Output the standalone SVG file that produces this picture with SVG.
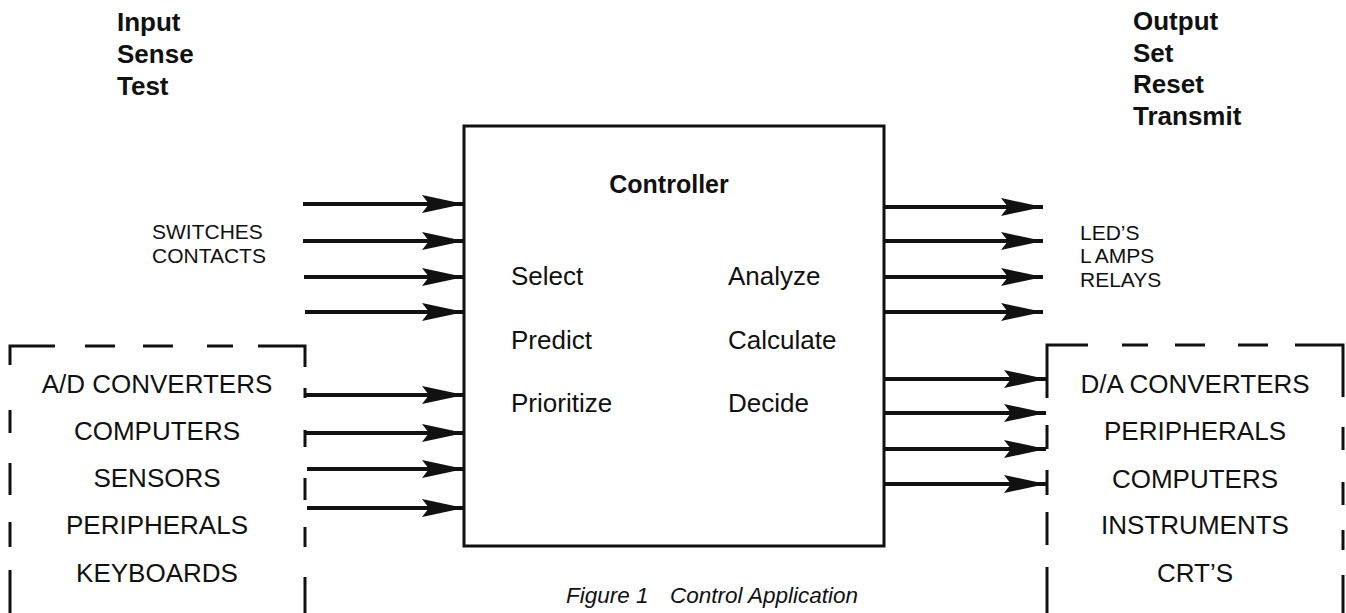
<svg xmlns="http://www.w3.org/2000/svg" width="1346" height="613" viewBox="0 0 1346 613">
  <style>
    text { font-family: "Liberation Sans", Arial, Helvetica, sans-serif; fill: #111; }
    .head { font-size: 26px; font-weight: bold; }
    .title { font-size: 25px; font-weight: bold; }
    .task { font-size: 26px; }
    .dev { font-size: 26px; text-anchor: middle; }
    .small { font-size: 21px; }
    .cap { font-size: 22.5px; font-style: italic; }
    .box { fill: none; stroke: #111; stroke-width: 3; }
    .dash { fill: none; stroke: #111; stroke-width: 3; stroke-linecap: butt; }
    .wire { stroke: #111; stroke-width: 4; fill: none; marker-end: url(#head); }
  </style>
  <defs>
    <!-- long narrow barbed arrowhead, tip at the line end -->
    <marker id="head" markerUnits="userSpaceOnUse" viewBox="-44 -11 46 22" refX="0" refY="0" markerWidth="46" markerHeight="22" orient="auto">
      <path d="M0,0 L-42,-9 L-35,0 L-42,9 Z" fill="#111"/>
    </marker>
  </defs>

  <g id="input-modes">
    <text class="head" x="117" y="31">Input</text>
    <text class="head" x="117" y="63">Sense</text>
    <text class="head" x="117" y="95">Test</text>
  </g>

  <g id="output-modes">
    <text class="head" x="1133" y="30">Output</text>
    <text class="head" x="1133" y="62">Set</text>
    <text class="head" x="1133" y="93">Reset</text>
    <text class="head" x="1133" y="125">Transmit</text>
  </g>

  <g id="controller">
    <rect class="box" x="464" y="126" width="420" height="420"/>
    <text class="title" x="669" y="193" text-anchor="middle">Controller</text>
    <text class="task" x="511" y="285">Select</text>
    <text class="task" x="511" y="349">Predict</text>
    <text class="task" x="511" y="412">Prioritize</text>
    <text class="task" x="728" y="285">Analyze</text>
    <text class="task" x="728" y="349">Calculate</text>
    <text class="task" x="728" y="412">Decide</text>
  </g>

  <g id="switches">
    <text class="small" x="152" y="239">SWITCHES</text>
    <text class="small" x="152" y="263">CONTACTS</text>
  </g>

  <g id="indicators">
    <text class="small" x="1080" y="240">LED’S</text>
    <text class="small" x="1080" y="263">L<tspan dx="3">AMPS</tspan></text>
    <text class="small" x="1080" y="287">RELAYS</text>
  </g>

  <g id="input-devices">
    <path class="dash" d="M10,365 L10,346 L55,346 M85,346 L115,346 M143,346 L173,346 M207,346 L233,346 M258,346 L305,346 L305,367
      M10,410 L10,433 M10,463 L10,495 M10,522 L10,547 M10,570 L10,613
      M305,388 L305,398 M305,430 L305,447 M305,478 L305,500 M305,527 L305,547 M305,577 L305,613"/>
    <text class="dev" x="157" y="393">A/D CONVERTERS</text>
    <text class="dev" x="157" y="440">COMPUTERS</text>
    <text class="dev" x="157" y="487">SENSORS</text>
    <text class="dev" x="157" y="534">PERIPHERALS</text>
    <text class="dev" x="157" y="582">KEYBOARDS</text>
  </g>

  <g id="output-devices">
    <path class="dash" d="M1047,398 L1047,345 L1088,345 M1122,345 L1148,345 M1175,345 L1205,345 M1238,345 L1268,345 M1295,345 L1343,345 L1343,397
      M1047,425 L1047,449 M1047,470 L1047,495 M1047,512 L1047,545 M1047,567 L1047,613
      M1343,427 L1343,450 M1343,482 L1343,505 M1343,530 L1343,550 M1343,575 L1343,613"/>
    <text class="dev" x="1195" y="393">D/A CONVERTERS</text>
    <text class="dev" x="1195" y="440">PERIPHERALS</text>
    <text class="dev" x="1195" y="488">COMPUTERS</text>
    <text class="dev" x="1195" y="534">INSTRUMENTS</text>
    <text class="dev" x="1195" y="582">CRT’S</text>
  </g>

  <g id="caption">
    <text class="cap" x="566" y="603">Figure 1</text>
    <text class="cap" x="670" y="603">Control Application</text>
  </g>

  <g id="connectors">
    <!-- switch and contact inputs -->
    <line class="wire" x1="303" y1="204" x2="464" y2="204"/>
    <line class="wire" x1="303" y1="241" x2="464" y2="241"/>
    <line class="wire" x1="304" y1="277" x2="464" y2="277"/>
    <line class="wire" x1="305" y1="312" x2="464" y2="312"/>
    <!-- device inputs -->
    <line class="wire" x1="305" y1="395" x2="464" y2="395"/>
    <line class="wire" x1="305" y1="433" x2="464" y2="433"/>
    <line class="wire" x1="307" y1="469" x2="464" y2="469"/>
    <line class="wire" x1="307" y1="508" x2="464" y2="508"/>
    <!-- indicator outputs -->
    <line class="wire" x1="884" y1="207" x2="1043" y2="207"/>
    <line class="wire" x1="884" y1="241" x2="1043" y2="241"/>
    <line class="wire" x1="884" y1="277" x2="1043" y2="277"/>
    <line class="wire" x1="884" y1="312" x2="1043" y2="312"/>
    <!-- device outputs -->
    <line class="wire" x1="884" y1="379" x2="1046" y2="379"/>
    <line class="wire" x1="884" y1="413" x2="1046" y2="413"/>
    <line class="wire" x1="884" y1="449" x2="1046" y2="449"/>
    <line class="wire" x1="884" y1="484" x2="1046" y2="484"/>
  </g>
</svg>
